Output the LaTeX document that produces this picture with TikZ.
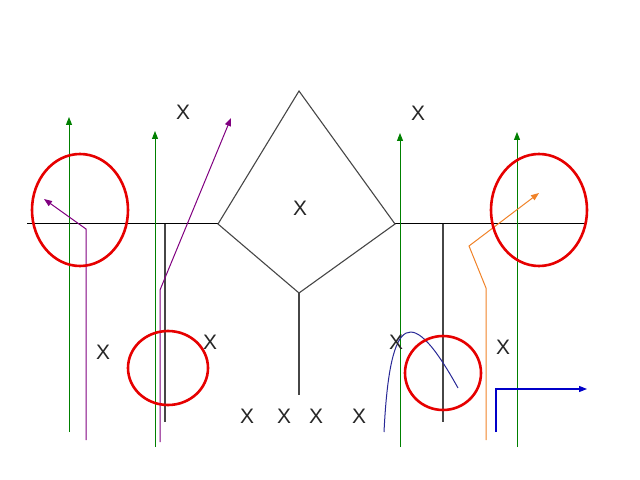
\documentclass[tikz,border=0pt]{standalone}
\usepackage{fontspec}
\setmainfont{Liberation Sans}
\usetikzlibrary{arrows.meta,shapes.geometric}
\definecolor{cgreen}{RGB}{0,128,0}
\definecolor{cpurple}{RGB}{128,0,128}
\definecolor{corange}{RGB}{240,130,40}
\definecolor{cnavy}{RGB}{40,40,150}
\definecolor{cblue}{RGB}{0,0,200}
\definecolor{cred}{RGB}{230,0,0}
\definecolor{cgray}{RGB}{70,70,70}
\tikzset{
  tip/.style={-{Triangle[length=8bp,width=6bp]}},
  greenarrow/.style={tip, draw=cgreen, line width=1bp},
  purplearrow/.style={tip, draw=cpurple, line width=1bp},
  orangearrow/.style={tip, draw=corange, line width=1bp},
  bluearrow/.style={tip, draw=cblue, line width=1.1bp},
  navyline/.style={draw=cnavy, line width=1bp},
  blackline/.style={draw=black, line width=1bp},
  grayline/.style={draw=cgray, line width=1.1bp},
  ring/.style={draw=cred, line width=2.6bp, ellipse, inner sep=0pt},
  xlab/.style={font=\fontsize{21}{21}\selectfont, inner sep=0pt, text=black!85}
}
\begin{document}
\begin{tikzpicture}[x=1bp,y=-1bp]
\useasboundingbox (0,0) rectangle (640,480);
% diamond corners
\coordinate (dl) at (218,224);
\coordinate (dt) at (299,91);
\coordinate (dr) at (395,224);
\coordinate (db) at (299,293);
\coordinate (lend) at (27,224);
\coordinate (rend) at (585,224);
\coordinate (stemb) at (299,395);
\draw[blackline] (lend) -- (dl);
\draw[blackline] (dr) -- (rend);
\draw[grayline] (dl) -- (dt) -- (dr) -- (db) -- cycle;
\draw[grayline] (db) -- (stemb);
% vertical black lines
\coordinate (vl1t) at (165,224); \coordinate (vl1b) at (165,422);
\coordinate (vl2t) at (443,224); \coordinate (vl2b) at (443,422);
\draw[grayline] (vl1t) -- (vl1b);
\draw[grayline] (vl2t) -- (vl2b);
% green arrows
\coordinate (g1b) at (69,432);  \coordinate (g1t) at (69,117);
\coordinate (g2b) at (155,447); \coordinate (g2t) at (155,131);
\coordinate (g3b) at (400,447); \coordinate (g3t) at (400,133);
\coordinate (g4b) at (517,447); \coordinate (g4t) at (517,132);
\draw[greenarrow] (g1b) -- (g1t);
\draw[greenarrow] (g2b) -- (g2t);
\draw[greenarrow] (g3b) -- (g3t);
\draw[greenarrow] (g4b) -- (g4t);
% purple arrows
\coordinate (p1b) at (86,440); \coordinate (p1c) at (86,229); \coordinate (p1t) at (44,199);
\draw[purplearrow] (p1b) -- (p1c) -- (p1t);
\coordinate (p2b) at (160,442); \coordinate (p2c) at (160,290); \coordinate (p2t) at (231,118);
\draw[purplearrow] (p2b) -- (p2c) -- (p2t);
% orange arrow
\coordinate (ob) at (486,440); \coordinate (oc1) at (486,288); \coordinate (oc2) at (469,246); \coordinate (ot) at (539,193);
\draw[orangearrow] (ob) -- (oc1) -- (oc2) -- (ot);
% navy curve
\coordinate (nb) at (384,432); \coordinate (ne) at (458,388);
\draw[navyline] (nb) .. controls (390,310) and (412,305) .. (ne);
% blue arrow
\coordinate (bb) at (496,432); \coordinate (bc) at (496,389); \coordinate (bt) at (587,389);
\draw[bluearrow] (bb) -- (bc) -- (bt);
% red rings
\node[ring, minimum width=96bp, minimum height=112bp] (r1) at (80,210) {};
\node[ring, minimum width=96bp, minimum height=112bp] (r2) at (539,210) {};
\node[ring, minimum width=80bp, minimum height=74bp] (r3) at (168,368) {};
\node[ring, minimum width=76bp, minimum height=74bp] (r4) at (443,373) {};
% labels
\node[xlab] (x1) at (183,112) {X};
\node[xlab] (x2) at (418,113) {X};
\node[xlab] (x3) at (300,208) {X};
\node[xlab] (x4) at (103,352) {X};
\node[xlab] (x5) at (210,342) {X};
\node[xlab] (x6) at (396,342) {X};
\node[xlab] (x7) at (503,347) {X};
\node[xlab] (x8) at (247,416) {X};
\node[xlab] (x9) at (284,416) {X};
\node[xlab] (x10) at (316,416) {X};
\node[xlab] (x11) at (359,416) {X};
\end{tikzpicture}
\end{document}
